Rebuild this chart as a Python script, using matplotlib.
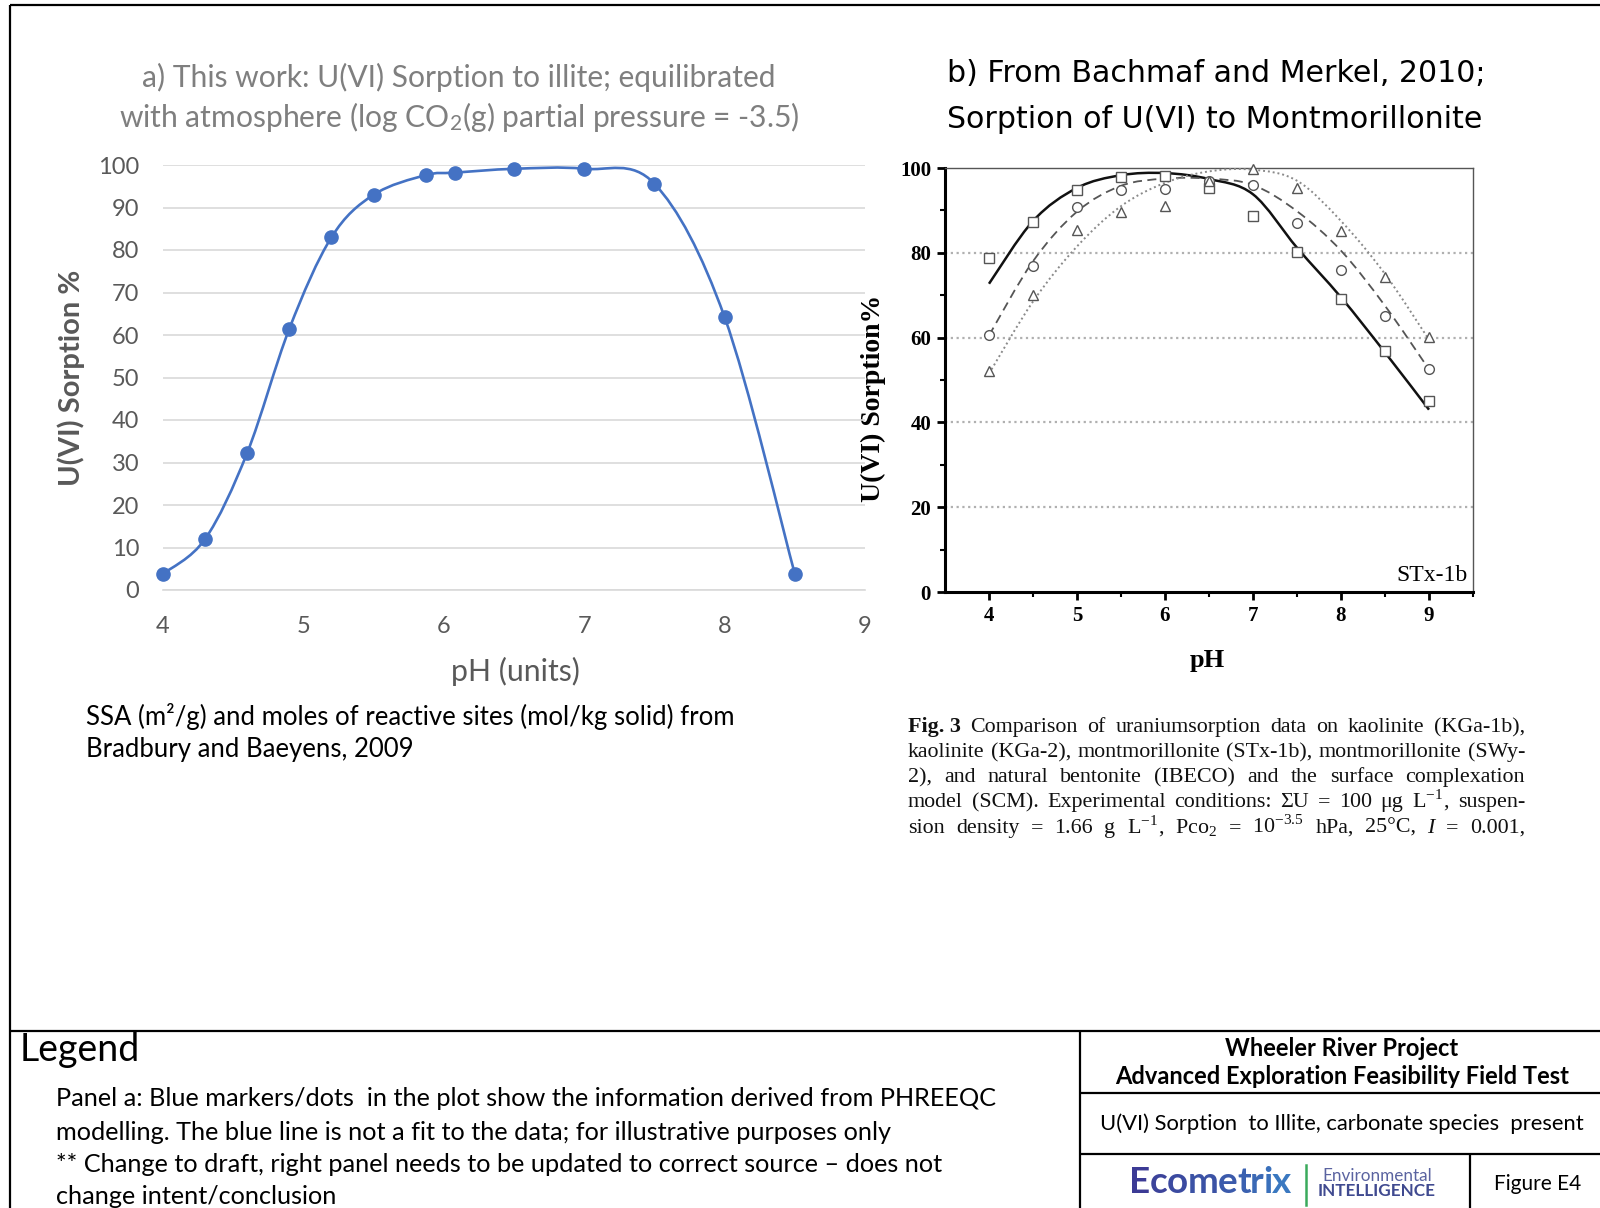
import numpy as np
import matplotlib
matplotlib.use("Agg")
import matplotlib.pyplot as plt
from matplotlib.path import Path
from matplotlib.patches import PathPatch
from matplotlib.lines import Line2D
from matplotlib.colors import to_rgb

plt.rcParams['mathtext.fontset'] = 'stix'

# ---------------- data ----------------
# Panel a: PHREEQC model points
ph_a = [4.0, 4.3, 4.6, 4.9, 5.2, 5.5, 5.87, 6.08, 6.5, 7.0, 7.5, 8.0, 8.5]
sorp_a = [3.8, 12.0, 32.3, 61.5, 83.0, 93.0, 97.6, 98.2, 99.1, 99.1, 95.6, 64.2, 3.8]
xticks_a = [4, 5, 6, 7, 8, 9]
yticks_a = [0, 10, 20, 30, 40, 50, 60, 70, 80, 90, 100]

# Panel b: Bachmaf & Merkel (2010), STx-1b
ph_b = [4.0, 4.5, 5.0, 5.5, 6.0, 6.5, 7.0, 7.5, 8.0, 8.5, 9.0]
squares_b = [78.8, 87.2, 94.7, 97.9, 98.2, 95.4, 88.7, 80.3, 69.0, 56.8, 45.0]
circles_b = [60.7, 76.9, 90.9, 94.9, 95.0, 97.0, 96.0, 87.0, 75.9, 65.0, 52.6]
triangles_b = [52.1, 70.0, 85.4, 89.7, 91.1, 97.0, 99.8, 95.3, 85.2, 74.2, 60.1]
model_solid_b = [72.7, 87.5, 95.3, 98.3, 98.8, 97.4, 93.8, 81.2, 69.5, 56.5, 43.0]
model_dashed_b = [60.5, 78.0, 89.7, 95.8, 97.5, 97.5, 96.0, 89.8, 80.5, 67.5, 52.5]
model_dotted_b = [51.5, 68.5, 81.5, 91.0, 96.5, 99.2, 99.6, 97.0, 87.5, 75.0, 59.5]
xticks_b = [4, 5, 6, 7, 8, 9]
yticks_b = [0, 20, 40, 60, 80, 100]

SANS = ['Lato', 'DejaVu Sans']
SERIF = ['Liberation Serif', 'DejaVu Serif']
BLUE = '#4472C4'
GRAY = '#595959'


def smooth_path(x, y):
    P = np.column_stack([x, y]).astype(float)
    verts = [P[0]]
    codes = [Path.MOVETO]
    n = len(P)
    for i in range(n - 1):
        p0 = P[i - 1] if i > 0 else P[i]
        p3 = P[i + 2] if i + 2 < n else P[i + 1]
        c1 = P[i] + (P[i + 1] - p0) / 6.0
        c2 = P[i + 1] - (p3 - P[i]) / 6.0
        verts += [c1, c2, P[i + 1]]
        codes += [Path.CURVE4] * 3
    return Path(verts, codes)


fig = plt.figure(figsize=(16, 12.08), dpi=100)
renderer = fig.canvas.get_renderer()

# background axes in pixel coordinates
bg = fig.add_axes([0, 0, 1, 1], zorder=-5)
bg.set_xlim(0, 1600)
bg.set_ylim(1208, 0)
bg.axis('off')

# ---------------- Panel a ----------------
axa = fig.add_axes([163 / 1600, 1 - 590 / 1208, 702 / 1600, 425 / 1208])
axa.patch.set_visible(False)
axa.set_xlim(4, 9)
axa.set_ylim(0, 100)
axa.set_xticks(xticks_a)
axa.set_yticks(yticks_a)
for s in ['left', 'right', 'top']:
    axa.spines[s].set_visible(False)
axa.spines['bottom'].set_color('#d9d9d9')
axa.spines['bottom'].set_linewidth(1.2)
axa.grid(axis='y', color='#d9d9d9', lw=1.2)
axa.set_axisbelow(True)
axa.tick_params(length=0, labelsize=17, labelcolor=GRAY)
axa.tick_params(axis='y', pad=17)
axa.tick_params(axis='x', pad=19)
for lab in axa.get_xticklabels() + axa.get_yticklabels():
    lab.set_family(SANS)
axa.add_patch(PathPatch(smooth_path(ph_a, sorp_a), fill=False, ec=BLUE, lw=1.9,
                        clip_on=False, zorder=3))
axa.plot(ph_a, sorp_a, 'o', color=BLUE, ms=9.5, clip_on=False, zorder=4)

bg.text(459, 77, "a) This work: U(VI) Sorption to illite; equilibrated",
        ha='center', va='center', fontsize=21.6, color='#7f7f7f', family=SANS)
bg.text(459, 117, r"with atmosphere (log CO$_\mathregular{2}$(g) partial pressure = -3.5)",
        ha='center', va='center', fontsize=21.6, color='#7f7f7f', family=SANS)
bg.text(71, 378, "U(VI) Sorption %", rotation=90, ha='center', va='center',
        fontsize=21, color=GRAY, family=SANS, fontweight='bold')
bg.text(515, 671, "pH (units)", ha='center', va='center', fontsize=21.8,
        color=GRAY, family=SANS)
bg.text(86, 716, "SSA (m²/g) and moles of reactive sites (mol/kg solid) from",
        ha='left', va='center', fontsize=18.5, color='black', family=SANS)
bg.text(86, 750, "Bradbury and Baeyens, 2009",
        ha='left', va='center', fontsize=18.5, color='black', family=SANS)

# ---------------- Panel b ----------------
axb = fig.add_axes([945 / 1600, 1 - 592 / 1208, 528 / 1600, 424 / 1208])
axb.patch.set_visible(False)
axb.set_xlim(3.5, 9.5)
axb.set_ylim(0, 100)
axb.set_xticks(xticks_b)
axb.set_yticks(yticks_b)
axb.set_xticks(np.arange(4.5, 9.6, 1.0), minor=True)
axb.set_yticks(np.arange(10, 100, 20), minor=True)
for s in ['left', 'bottom']:
    axb.spines[s].set_linewidth(2.2)
    axb.spines[s].set_color('black')
for s in ['top', 'right']:
    axb.spines[s].set_linewidth(1.0)
    axb.spines[s].set_color('#555555')
axb.tick_params(which='major', direction='out', length=6, width=2, labelsize=15, pad=4)
axb.tick_params(which='minor', direction='out', length=3.5, width=1.5)
for lab in axb.get_xticklabels() + axb.get_yticklabels():
    lab.set_family(SERIF)
    lab.set_fontweight('bold')
for g in [20, 40, 60, 80]:
    axb.axhline(g, color='#b0b0b0', lw=1.6, ls=(0, (1, 1.6)), zorder=1)

axb.add_patch(PathPatch(smooth_path(ph_b, model_solid_b), fill=False, ec='#111111', lw=1.8, zorder=3))
axb.add_patch(PathPatch(smooth_path(ph_b, model_dashed_b), fill=False, ec='#555555', lw=1.3,
                        ls=(0, (5, 3)), zorder=3))
axb.add_patch(PathPatch(smooth_path(ph_b, model_dotted_b), fill=False, ec='#8a8a8a', lw=1.4,
                        ls=(0, (1, 1.5)), zorder=3))
mk = dict(ls='none', mfc='white', mec='#555555', mew=1.0, ms=7, zorder=4, clip_on=False)
axb.plot(ph_b, squares_b, marker='s', **mk)
axb.plot(ph_b, circles_b, marker='o', **mk)
axb.plot(ph_b, triangles_b, marker='^', **mk)
axb.text(0.99, 0.015, "STx-1b", transform=axb.transAxes, ha='right', va='bottom',
         fontsize=17, family=SERIF)

bg.text(947, 74, "b) From Bachmaf and Merkel, 2010;", ha='left', va='center',
        fontsize=21.6, family='DejaVu Sans', color='black')
bg.text(947, 119, "Sorption of U(VI) to Montmorillonite", ha='left', va='center',
        fontsize=21.6, family='DejaVu Sans', color='black')
bg.text(873, 398, "U(VI) Sorption%", rotation=90, ha='center', va='center',
        fontsize=20, family=SERIF, fontweight='bold')
bg.text(1207, 660, "pH", ha='center', va='center', fontsize=19, family=SERIF,
        fontweight='bold')

# caption (justified)
cap_lines = [
    [("Fig. 3", 'bold', 'normal'), "Comparison", "of", "uraniumsorption", "data", "on",
     "kaolinite", "(KGa-1b),"],
    ["kaolinite", "(KGa-2),", "montmorillonite", "(STx-1b),", "montmorillonite", "(SWy-"],
    ["2),", "and", "natural", "bentonite", "(IBECO)", "and", "the", "surface", "complexation"],
    ["model", "(SCM).", "Experimental", "conditions:", "ΣU", "=", "100", "μg",
     r"L$^{\mathregular{-1}}$,", "suspen-"],
    ["sion", "density", "=", "1.66", "g", r"L$^{\mathregular{-1}}$,", r"Pco$_\mathregular{2}$",
     "=", r"10$^{\mathregular{-3.5}}$", "hPa,", "25°C,", ("I", 'normal', 'italic'), "=", "0.001,"],
]
cap_base = [732, 757, 782, 807, 833]
x0, x1 = 908, 1525
for line, yb in zip(cap_lines, cap_base):
    texts = []
    for tok in line:
        if isinstance(tok, tuple):
            s, w, st = tok
        else:
            s, w, st = tok, 'normal', 'normal'
        t = bg.text(0, yb, s, ha='left', va='baseline', fontsize=15.8, family=SERIF,
                    fontweight=w, fontstyle=st, color='#111111')
        texts.append(t)
    widths = [t.get_window_extent(renderer=renderer).width for t in texts]
    gap = (x1 - x0 - sum(widths)) / (len(texts) - 1)
    x = x0
    for t, w in zip(texts, widths):
        t.set_x(x)
        x += w + gap

# ---------------- frame and title block ----------------
lk = dict(color='black', lw=1.6, solid_capstyle='butt')
bg.add_line(Line2D([10, 10], [5, 1208], **lk))
bg.add_line(Line2D([10, 1600], [5, 5], **lk))
bg.add_line(Line2D([10, 1600], [1031, 1031], **lk))
bg.add_line(Line2D([1080, 1080], [1031, 1208], **lk))
bg.add_line(Line2D([1080, 1600], [1093, 1093], **lk))
bg.add_line(Line2D([1080, 1600], [1154, 1154], **lk))
bg.add_line(Line2D([1470, 1470], [1154, 1208], **lk))

bg.text(20, 1050, "Legend", ha='left', va='center', fontsize=27, family=SANS)
leg_lines = [
    "Panel a: Blue markers/dots  in the plot show the information derived from PHREEQC",
    "modelling. The blue line is not a fit to the data; for illustrative purposes only",
    "** Change to draft, right panel needs to be updated to correct source \u2013 does not",
    "change intent/conclusion",
]
for s, yy in zip(leg_lines, [1099, 1132, 1164, 1197]):
    bg.text(56, yy, s, ha='left', va='center', fontsize=18.2, family=SANS)

bg.text(1342, 1048, "Wheeler River Project", ha='center', va='center', fontsize=17,
        family=SANS, fontweight='bold')
bg.text(1342, 1077, "Advanced Exploration Feasibility Field Test", ha='center', va='center',
        fontsize=17, family=SANS, fontweight='bold')
bg.text(1342, 1124, "U(VI) Sorption  to Illite, carbonate species  present", ha='center',
        va='center', fontsize=15.8, family=SANS)

# Ecometrix logo: letters with a purple-to-blue gradient
logo = "Ecometrix"
c_start, c_end = np.array(to_rgb('#3c3b95')), np.array(to_rgb('#3a78c0'))
letters = []
for i, ch in enumerate(logo):
    frac = i / (len(logo) - 1)
    col = tuple(c_start * (1 - frac) + c_end * frac)
    t = bg.text(0, 1193, ch, ha='left', va='baseline', fontsize=26.5, family=SANS,
                fontweight='bold', color=col)
    letters.append(t)
lw_ = [t.get_window_extent(renderer=renderer).width for t in letters]
xl = 1129
for t, w in zip(letters, lw_):
    t.set_x(xl)
    xl += w - 0.5
bg.add_line(Line2D([1306, 1306], [1165, 1205], color='#3aaa5c', lw=1.8))
bg.text(1377, 1176, "Environmental", ha='center', va='center', fontsize=12.3, family=SANS,
        color='#5a63a0')
bg.text(1377, 1191, "INTELLIGENCE", ha='center', va='center', fontsize=12.3, family=SANS,
        color='#404a90', fontweight='bold')
bg.text(1538, 1184, "Figure E4", ha='center', va='center', fontsize=15, family=SANS)

fig.savefig("out.png", dpi=100)
